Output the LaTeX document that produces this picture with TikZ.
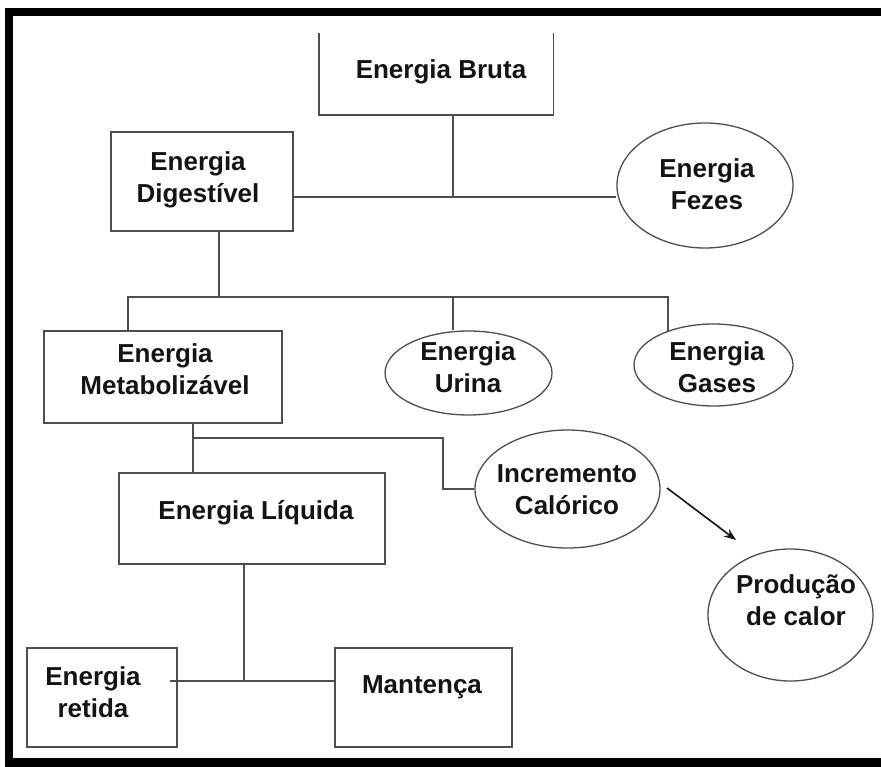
\documentclass[tikz,border=0pt]{standalone}
\usepackage{fontspec}
\setmainfont{Liberation Sans}
\usetikzlibrary{shapes.geometric,arrows.meta}
\definecolor{lc}{RGB}{78,78,78}
\definecolor{tc}{RGB}{20,20,20}
\tikzset{
  boxshape/.style={rectangle,draw=lc,line width=1.4pt,inner sep=0pt},
  openbox/.style={rectangle,inner sep=0pt},
  ellshape/.style={ellipse,draw=lc,line width=1.3pt,inner sep=0pt},
  txt/.style={align=center,text=tc,font=\fontsize{26}{32}\selectfont\bfseries,inner sep=0pt},
  conn/.style={draw=lc,line width=1.4pt},
  arr/.style={draw=tc,line width=1.6pt,-{Stealth[length=12pt,width=9pt]}},
  frame/.style={fill=black,draw=none}
}
\begin{document}
\begin{tikzpicture}[x=1pt,y=-1pt]
\useasboundingbox (0,0) rectangle (881,767);
\fill[white] (0,0) rectangle (881,767);
% frame
\fill[frame] (5,8) rectangle (13,767);
\fill[frame] (5,8) rectangle (881,16);
\fill[frame] (5,758) rectangle (881,767);

% shapes
\node[openbox,minimum width=234pt,minimum height=82pt] (bruta) at (436,74) {};
\node[txt] (tbruta) at (441,72) {Energia Bruta};
\node[boxshape,minimum width=182pt,minimum height=99pt] (dig) at (202,181.5) {};
\node[txt] (tdig) at (198,180) {Energia\\Digestível};
\node[ellshape,minimum width=176pt,minimum height=125pt] (fez) at (705,185.5) {};
\node[txt] (tfez) at (707,184.5) {Energia\\Fezes};
\node[boxshape,minimum width=238pt,minimum height=92pt] (met) at (163,377) {};
\node[txt] (tmet) at (165,369) {Energia\\Metabolizável};
\node[ellshape,minimum width=167pt,minimum height=84pt] (uri) at (468.5,373) {};
\node[txt] (turi) at (468,367) {Energia\\Urina};
\node[ellshape,minimum width=159pt,minimum height=82pt] (gas) at (713.5,365) {};
\node[txt] (tgas) at (717,367) {Energia\\Gases};
\node[boxshape,minimum width=266pt,minimum height=91pt] (liq) at (252,518.5) {};
\node[txt] (tliq) at (256,513) {Energia Líquida};
\node[ellshape,minimum width=185pt,minimum height=118pt] (inc) at (567.5,489) {};
\node[txt] (tinc) at (567,490) {Incremento\\Calórico};
\node[boxshape,minimum width=150pt,minimum height=99pt] (ret) at (102,697.5) {};
\node[txt] (tret) at (93,692) {Energia\\retida};
\node[boxshape,minimum width=177pt,minimum height=99pt] (man) at (423.5,697.5) {};
\node[txt] (tman) at (422,687) {Mantença};
\node[ellshape,minimum width=165pt,minimum height=132pt] (pro) at (790.5,615) {};
\node[txt] (tpro) at (796,600) {Produção\\de calor};

% open-top box for Energia Bruta
\draw[conn] (bruta.north west) -- (bruta.south west) -- (bruta.south east) -- (bruta.north east);

% connectors
\coordinate (j1) at (453,197);
\draw[conn] (bruta.south -| j1) -- (j1);
\draw[conn] (dig.east |- j1) -- (fez.west |- j1);

\coordinate (j2) at (219,297);
\coordinate (h2l) at (128,297);
\coordinate (h2r) at (668,297);
\coordinate (j3) at (453,297);
\draw[conn] (dig.south -| j2) -- (j2);
\draw[conn] (met.north -| h2l) -- (h2l) -- (h2r) -- (h2r |- gas.143);
\draw[conn] (j3) -- (j3 |- uri.north);

\coordinate (j4) at (193,438);
\coordinate (k1) at (443,438);
\draw[conn] (met.south -| j4) -- (liq.north -| j4);
\draw[conn] (j4) -- (k1) |- (inc.west);

\coordinate (j5) at (244,681);
\draw[conn] (liq.south -| j5) -- (j5);
\draw[conn] ([xshift=-8pt]ret.east |- j5) -- (man.west |- j5);

\coordinate (a1) at (667,488);
\coordinate (a2) at (736,540);
\draw[arr] (a1) -- (a2);
\end{tikzpicture}
\end{document}
